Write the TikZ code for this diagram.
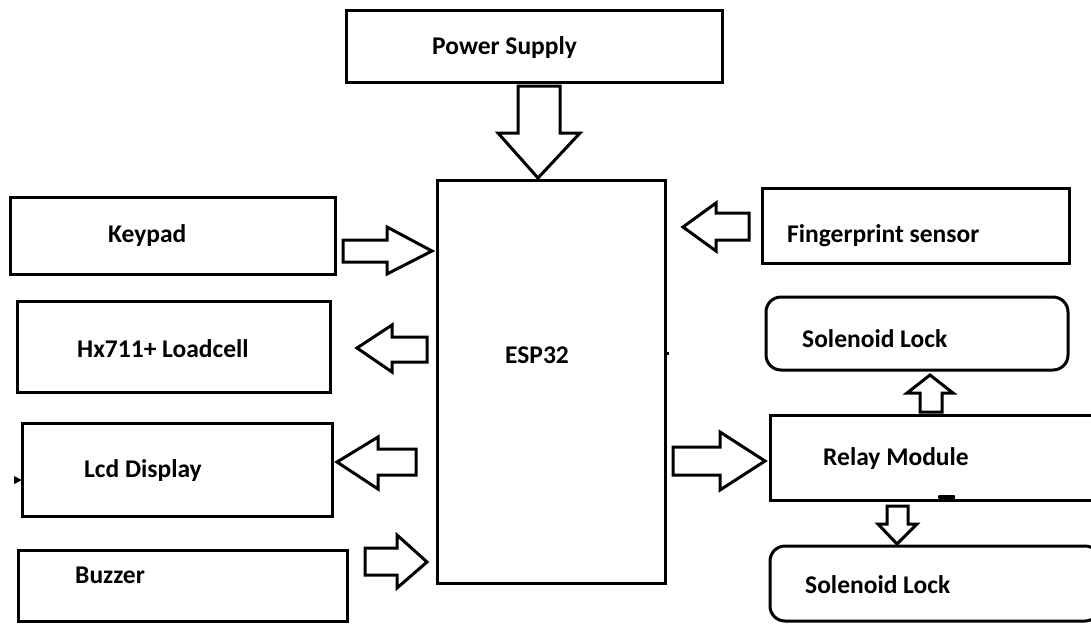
\documentclass[tikz,border=0pt]{standalone}
\usepackage{fontspec}
\setmainfont{Carlito}
\begin{document}
\begin{tikzpicture}[x=1pt,y=-1pt,
  box/.style={draw=black,line width=3pt,inner sep=0pt,outer sep=0pt},
  rbox/.style={box,rounded corners=15pt},
  lbl/.style={anchor=base west,inner sep=0pt,font=\bfseries\fontsize{25.5}{30}\selectfont},
  barrow/.style={draw=black,line width=3pt,fill=white,line join=miter}]
\useasboundingbox (0,0) rectangle (1091,624);
\fill[white] (0,0) rectangle (1091,624);
% boxes
\path (346,10) coordinate (ps1) (722,82) coordinate (ps2);
\draw[box] (ps1) rectangle (ps2);
\node[lbl] (pst) at (432,54) {Power Supply};
\draw[box] (437,180) rectangle (665,583);
\node[lbl] (esp) at (505,363) {ESP32};
\draw[box] (10,197) rectangle (335,274);
\node[lbl] (kp) at (108,242) {Keypad};
\draw[box] (17,301) rectangle (330,392);
\node[lbl] (hx) at (77,357) {Hx711+ Loadcell};
\draw[box] (22,423) rectangle (332,516);
\node[lbl] (lcd) at (84,477) {Lcd Display};
\draw[box] (18,550) rectangle (347,621);
\node[lbl] (bz) at (75,583) {Buzzer};
\draw[box] (762,188) rectangle (1069,263);
\node[lbl] (fp) at (787,242) {Fingerprint sensor};
\draw[rbox] (766,297) rectangle (1068,370);
\node[lbl] (sl1) at (802,347) {Solenoid Lock};
\draw[box] (770,415) rectangle (1100,500);
\node[lbl] (rm) at (823,465) {Relay Module};
\draw[rbox] (770,546) rectangle (1100,621);
\node[lbl] (sl2) at (805,593) {Solenoid Lock};
% block arrows
\draw[barrow] (518,86)--(518,133)--(498,133)--(538,178)--(580,133)--(560,133)--(560,86)--cycle;
\draw[barrow] (343,240)--(387,240)--(387,227)--(432,251)--(387,274)--(387,262)--(343,262)--cycle;
\draw[barrow] (427,337)--(392,337)--(392,325)--(357,348)--(392,372)--(392,362)--(427,362)--cycle;
\draw[barrow] (416,449)--(378,449)--(378,437)--(337,462)--(378,489)--(378,475)--(416,475)--cycle;
\draw[barrow] (365,548)--(397,548)--(397,535)--(427,562)--(397,588)--(397,575)--(365,575)--cycle;
\draw[barrow] (749,213)--(716,213)--(716,203)--(683,227)--(716,251)--(716,240)--(749,240)--cycle;
\draw[barrow] (920,412)--(920,393)--(907,393)--(930,375)--(953,393)--(942,393)--(942,412)--cycle;
\draw[barrow] (673,447)--(720,447)--(720,432)--(765,461)--(720,490)--(720,475)--(673,475)--cycle;
\draw[barrow] (887,506)--(887,524)--(878,524)--(897,544)--(917,524)--(908,524)--(908,506)--cycle;
% small marks
\fill[black] (14,476)--(22,480)--(14,484)--cycle;
\fill[black] (665,352) rectangle (669,355);
\fill[white] (912,501.5) rectangle (962,504);
\fill[black,rounded corners=1pt] (938,495) rectangle (955,499);
\end{tikzpicture}
\end{document}
